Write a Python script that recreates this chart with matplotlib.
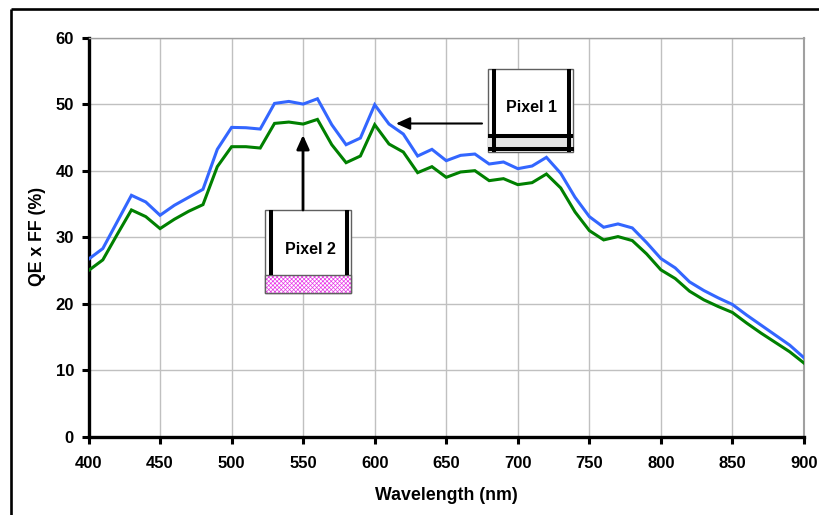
import matplotlib
matplotlib.use('Agg')
import numpy as np
import matplotlib.pyplot as plt
from matplotlib.patches import Rectangle, FancyArrowPatch
from matplotlib.lines import Line2D
from matplotlib.transforms import Affine2D

W, H = 819, 515

wavelength = list(range(400, 901, 10))
# Pixel 1 curve
pixel1 = [26.7, 28.3, 32.3, 36.3, 35.3, 33.3, 34.8, 36.0, 37.2, 43.2,
          46.5, 46.45, 46.25, 50.1, 50.4, 50.0, 50.8, 46.9, 43.9, 44.9,
          49.9, 47.0, 45.5, 42.2, 43.2, 41.5, 42.3, 42.5, 41.0, 41.3,
          40.3, 40.7, 42.0, 39.6, 36.0, 33.1, 31.5, 32.0, 31.4, 29.2,
          26.8, 25.4, 23.3, 22.0, 20.9, 19.9, 18.3, 16.8, 15.3, 13.8, 11.9]
# Pixel 2 curve
pixel2 = [25.0, 26.6, 30.4, 34.1, 33.1, 31.3, 32.7, 33.9, 34.9, 40.6,
          43.6, 43.6, 43.4, 47.1, 47.3, 47.0, 47.7, 43.9, 41.2, 42.2,
          46.9, 44.0, 42.8, 39.7, 40.6, 39.0, 39.8, 40.0, 38.5, 38.8,
          37.9, 38.2, 39.5, 37.4, 33.8, 31.0, 29.6, 30.1, 29.5, 27.5,
          25.1, 23.8, 21.9, 20.6, 19.6, 18.7, 17.1, 15.6, 14.2, 12.8, 11.1]
xticks = list(range(400, 901, 50))
yticks = list(range(0, 61, 10))

plt.rcParams['font.family'] = ['Liberation Sans', 'DejaVu Sans']
plt.rcParams['hatch.linewidth'] = 0.5

fig = plt.figure(figsize=(W / 100, H / 100), dpi=100)
ax = fig.add_axes([88.5 / W, 1 - 437 / H, (804 - 88.5) / W, (437 - 37.5) / H])

# pixel coords, y going down from the top of the image
px = Affine2D().scale(1 / W, -1 / H).translate(0, 1) + fig.transFigure

ax.plot(wavelength, pixel1, color='#3366ff', lw=2.2, solid_joinstyle='miter', zorder=3)
ax.plot(wavelength, pixel2, color='#008000', lw=2.2, solid_joinstyle='miter', zorder=3)

ax.set_xlim(400, 900)
ax.set_ylim(0, 60)
ax.set_xticks(xticks)
ax.set_yticks(yticks)
ax.grid(True, color='#c0c0c0', lw=1.0)
ax.set_axisbelow(True)
ax.tick_params(length=5, width=2.2, labelsize=12)
ax.tick_params(axis='x', pad=8.5)
ax.tick_params(axis='y', pad=5.5)
for lab in ax.get_xticklabels() + ax.get_yticklabels():
    lab.set_fontweight('bold')
ax.set_xlabel('Wavelength (nm)', fontsize=12.8, fontweight='bold', va='center')
ax.set_ylabel('QE x FF (%)', fontsize=12.8, fontweight='bold', va='center')
ax.xaxis.set_label_coords(446, 496, transform=px)
ax.yaxis.set_label_coords(38, 236.5, transform=px)
ax.spines['top'].set_color('#a0a0a0')
ax.spines['right'].set_color('#a0a0a0')
ax.spines['top'].set_linewidth(1.0)
ax.spines['right'].set_linewidth(1.5)
ax.spines['left'].set_linewidth(2.4)
ax.spines['bottom'].set_linewidth(2.4)


def rect(x0, y0, x1, y1, **kw):
    fig.add_artist(Rectangle((x0, y0), x1 - x0, y1 - y0, transform=px, **kw))


def line(x0, y0, x1, y1, **kw):
    fig.add_artist(Line2D([x0, x1], [y0, y1], transform=px, color='black',
                          solid_capstyle='butt', **kw))


def arrow(x0, y0, x1, y1, lw):
    fig.add_artist(FancyArrowPatch((x0, y0), (x1, y1), transform=px, color='black',
                                   arrowstyle='-|>,head_length=0.6,head_width=0.27',
                                   mutation_scale=14, lw=lw, shrinkA=0, shrinkB=0))


# outer frame, only left and top show
line(11, 9, 819, 9, lw=1.9)
line(11, 9, 11, 515, lw=1.9)

# Pixel 1 inset
rect(487.5, 69, 573, 152, fc='white', ec='#606060', lw=1.0)
rect(487.5, 135, 573, 150, fc='#e4e4e4', ec='none')
line(494, 69, 494, 152, lw=2.9)
line(569, 69, 569, 152, lw=2.9)
line(487.5, 135.5, 573, 135.5, lw=2.9)
line(487.5, 148.5, 574, 148.5, lw=2.9)
fig.text(532, 108, 'Pixel 1', transform=px, ha='center', va='center',
         fontsize=11.5, fontweight='bold')

# Pixel 2 inset
rect(264.5, 210, 351, 293, fc='white', ec='#606060', lw=1.0)
rect(264.5, 275, 351, 293, fc='white', ec='#e838e8', lw=0, hatch='xxxxxxxx')
rect(264.5, 275, 351, 293, fc='none', ec='#606060', lw=1.0)
line(271, 210, 271, 275, lw=2.9)
line(346.5, 210, 346.5, 275, lw=2.9)
fig.text(310, 249, 'Pixel 2', transform=px, ha='center', va='center',
         fontsize=11.5, fontweight='bold')

arrow(303, 210, 303, 135, 2.0)
arrow(482, 123.5, 396, 123.5, 1.5)

fig.savefig('out.png', dpi=100)
